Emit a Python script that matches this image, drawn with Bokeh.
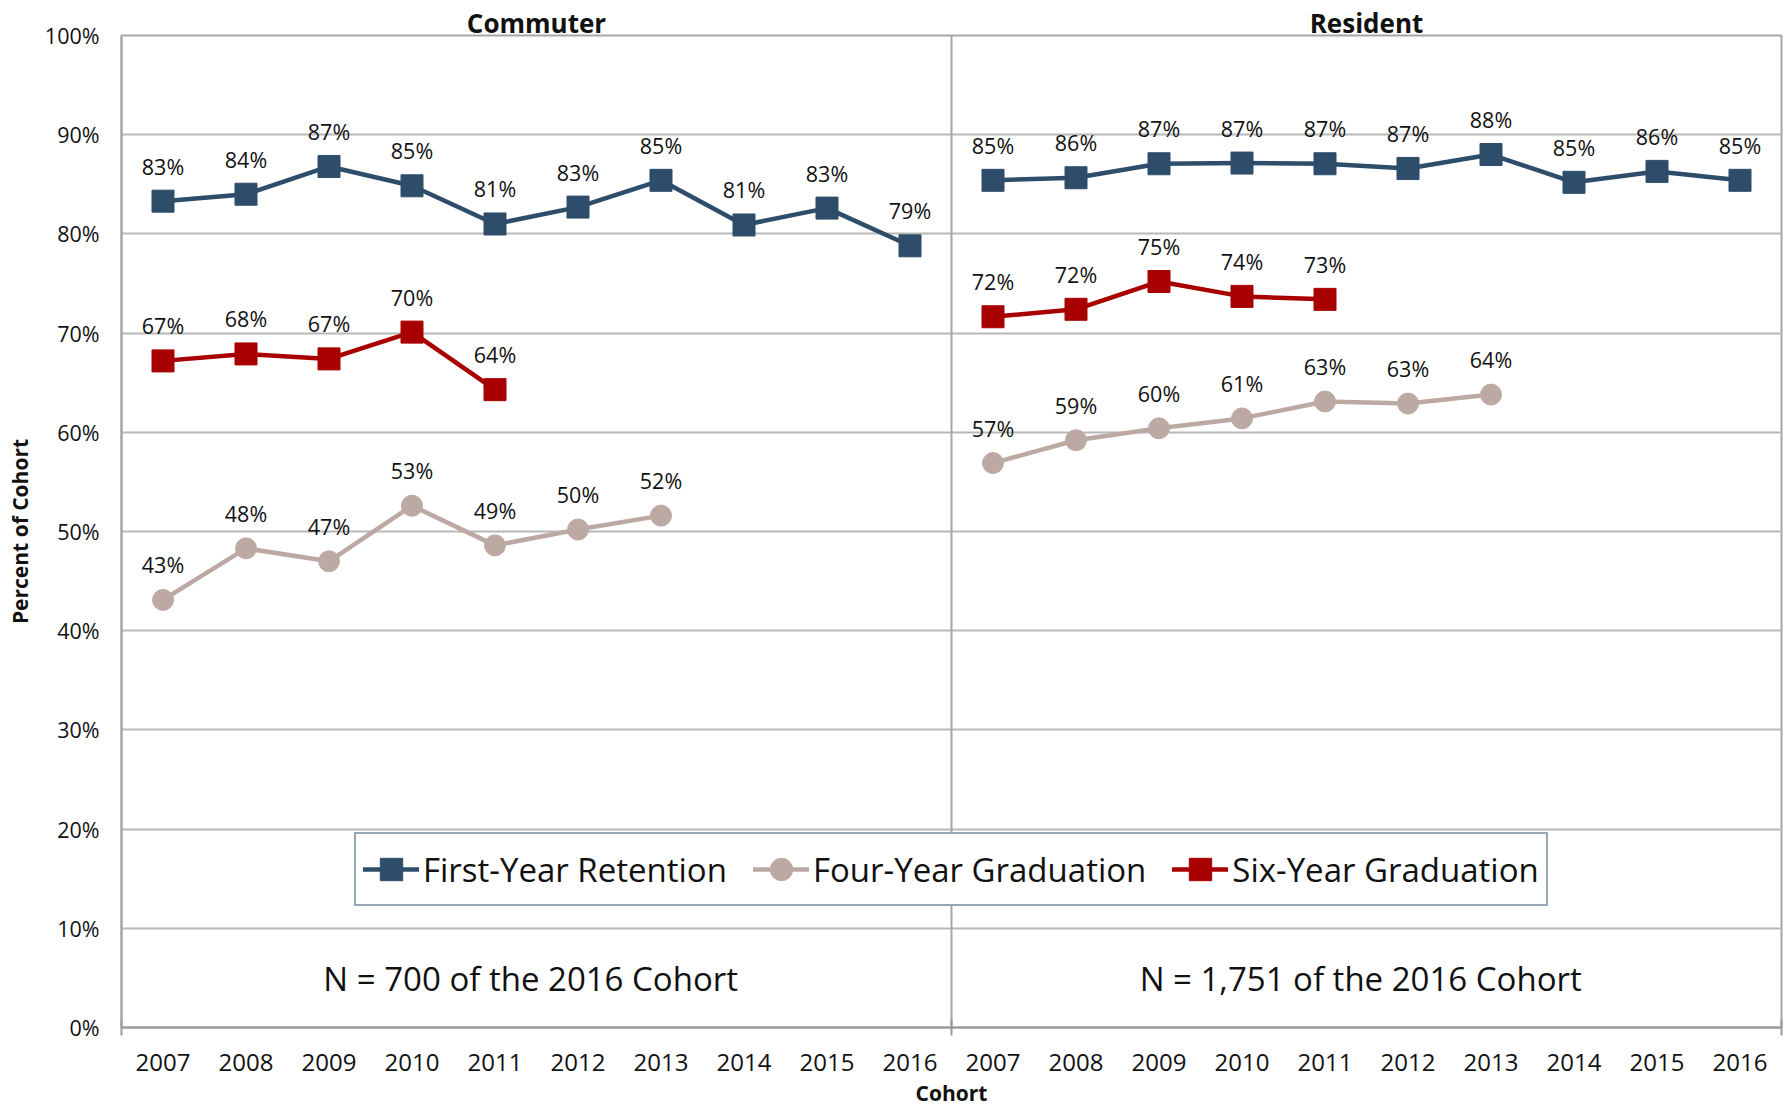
from bokeh.plotting import figure
from bokeh.models import (FixedTicker, Span, Label, Legend, LegendItem, LinearAxis,
                          ColumnDataSource, PrintfTickFormatter)
from bokeh.embed import file_html
from bokeh.resources import INLINE
from bokeh.core.properties import value

# ---------------- data ----------------
years = ["2007", "2008", "2009", "2010", "2011", "2012", "2013", "2014", "2015", "2016"]
groups = ["Commuter", "Resident"]
series_names = ["First-Year Retention", "Four-Year Graduation", "Six-Year Graduation"]

commuter_retention = [83.3, 84.0, 86.8, 84.85, 81.0, 82.7, 85.4, 80.9, 82.6, 78.8]
commuter_four_year = [43.1, 48.3, 47.0, 52.6, 48.6, 50.2, 51.6]
commuter_six_year = [67.2, 67.9, 67.4, 70.1, 64.3]

resident_retention = [85.4, 85.66, 87.07, 87.14, 87.07, 86.6, 88.0, 85.2, 86.3, 85.4]
resident_four_year = [56.9, 59.2, 60.4, 61.4, 63.1, 62.9, 63.8]
resident_six_year = [71.65, 72.4, 75.2, 73.7, 73.4]

cohort_sizes = ["700", "1,751"]
y_ticks = [0, 10, 20, 30, 40, 50, 60, 70, 80, 90, 100]

# ---------------- styling ----------------
FONT = "Open Sans"
COLORS = ["#2E4D6B", "#BCA9A3", "#A80000"]
MARKERS = ["square", "circle", "square"]
SIZES = [22, 21, 22]
GRID = "#B8B8B8"
TXT = "#111111"

n_years = len(years)
all_labels = years + years
x_index = list(range(len(all_labels)))

p = figure(width=1785, height=1109, output_backend="svg", toolbar_location=None,
           x_range=(-0.5, 2 * n_years - 0.5), y_range=(0, 100),
           min_border_left=121, min_border_right=4, min_border_top=35,
           min_border_bottom=81)
p.background_fill_color = "white"
p.border_fill_color = "white"
p.outline_line_color = "#A6A6A6"
p.outline_line_width = 2

# x axis (bottom)
p.xaxis.ticker = FixedTicker(ticks=x_index, minor_ticks=[-0.5, n_years - 0.5, 2 * n_years - 0.5])
p.xaxis.major_label_overrides = {i: lab for i, lab in zip(x_index, all_labels)}
p.xaxis.major_tick_line_color = None
p.xaxis.major_tick_out = 0
p.xaxis.major_tick_in = 0
p.xaxis.minor_tick_line_color = "#999999"
p.xaxis.minor_tick_line_width = 2
p.xaxis.minor_tick_in = 8
p.xaxis.minor_tick_out = 8
p.xaxis.axis_line_color = "#999999"
p.xaxis.axis_line_width = 2
p.xaxis.major_label_text_font = FONT
p.xaxis.major_label_text_font_size = "24px"
p.xaxis.major_label_text_color = TXT
p.xaxis.major_label_standoff = 18
p.xaxis.axis_label = "Cohort"
p.xaxis.axis_label_text_font = FONT
p.xaxis.axis_label_text_font_size = "21px"
p.xaxis.axis_label_text_font_style = "bold"
p.xaxis.axis_label_text_color = TXT
p.xaxis.axis_label_standoff = 5

# y axis
p.yaxis.ticker = FixedTicker(ticks=y_ticks)
p.yaxis.formatter = PrintfTickFormatter(format="%d%%")
p.yaxis.major_tick_line_color = None
p.yaxis.minor_tick_line_color = None
p.yaxis.major_tick_out = 0
p.yaxis.major_tick_in = 0
p.yaxis.axis_line_color = "#A6A6A6"
p.yaxis.axis_line_width = 2
p.yaxis.major_label_text_font = FONT
p.yaxis.major_label_text_font_size = "21.5px"
p.yaxis.major_label_text_color = TXT
p.yaxis.major_label_standoff = 22
p.yaxis.axis_label = "Percent of Cohort"
p.yaxis.axis_label_text_font = FONT
p.yaxis.axis_label_text_font_size = "21px"
p.yaxis.axis_label_text_font_style = "bold"
p.yaxis.axis_label_text_color = TXT
p.yaxis.axis_label_standoff = 8

# panel titles as a top axis
title_pos = [g * n_years + (n_years - 1) / 2 for g in range(len(groups))]
top_axis = LinearAxis(ticker=FixedTicker(ticks=title_pos),
                      major_label_overrides={t: g for t, g in zip(title_pos, groups)},
                      axis_line_color=None, major_tick_line_color=None,
                      minor_tick_line_color=None, major_tick_out=0, major_tick_in=0,
                      major_label_standoff=-5, major_label_text_font=FONT,
                      major_label_text_font_size="26px", major_label_text_font_style="bold",
                      major_label_text_color=TXT)
p.add_layout(top_axis, "above")

p.xgrid.grid_line_color = None
p.ygrid.grid_line_color = GRID
p.ygrid.grid_line_width = 2

# panel divider
p.add_layout(Span(location=n_years - 0.5, dimension="height", line_color="#A6A6A6",
                  line_width=2, level="underlay"))

panels = [
    [commuter_retention, commuter_four_year, commuter_six_year],
    [resident_retention, resident_four_year, resident_six_year],
]

legend_renderers = {}
for g, panel in enumerate(panels):
    offset = g * n_years
    for s, vals in enumerate(panel):
        xs = [offset + i for i in range(len(vals))]
        src = ColumnDataSource(dict(x=xs, y=vals, lab=[f"{round(v)}%" for v in vals]))
        lr = p.line("x", "y", source=src, line_color=COLORS[s], line_width=4.5,
                    line_join="round", line_cap="round")
        sr = p.scatter("x", "y", source=src, marker=MARKERS[s], size=SIZES[s],
                       fill_color=COLORS[s], line_color=COLORS[s])
        p.text("x", "y", text="lab", source=src, text_font=value(FONT),
               text_font_size="21.5px", text_color=TXT, text_align="center",
               text_baseline="middle", y_offset=-35)
        if g == 0:
            legend_renderers[series_names[s]] = [lr, sr]

# cohort size notes
for g in range(len(groups)):
    p.add_layout(Label(x=g * n_years + (n_years - 1) / 2 - 0.07, y=4.9,
                       text=f"N = {cohort_sizes[g]} of the 2016 Cohort",
                       text_font=FONT, text_font_size="33px", text_color=TXT,
                       text_align="center", text_baseline="middle"))

legend = Legend(items=[LegendItem(label=n, renderers=legend_renderers[n]) for n in series_names],
                orientation="horizontal", location=(233, 121),
                glyph_width=56, glyph_height=56, label_standoff=4, spacing=26,
                padding=7, margin=0,
                label_text_font=FONT, label_text_font_size="33px", label_text_color=TXT,
                label_text_baseline="middle",
                border_line_color="#2E4D6B", border_line_width=2,
                background_fill_color="white", background_fill_alpha=1.0)
p.add_layout(legend)

open("out.html", "w").write(file_html(p, INLINE))
